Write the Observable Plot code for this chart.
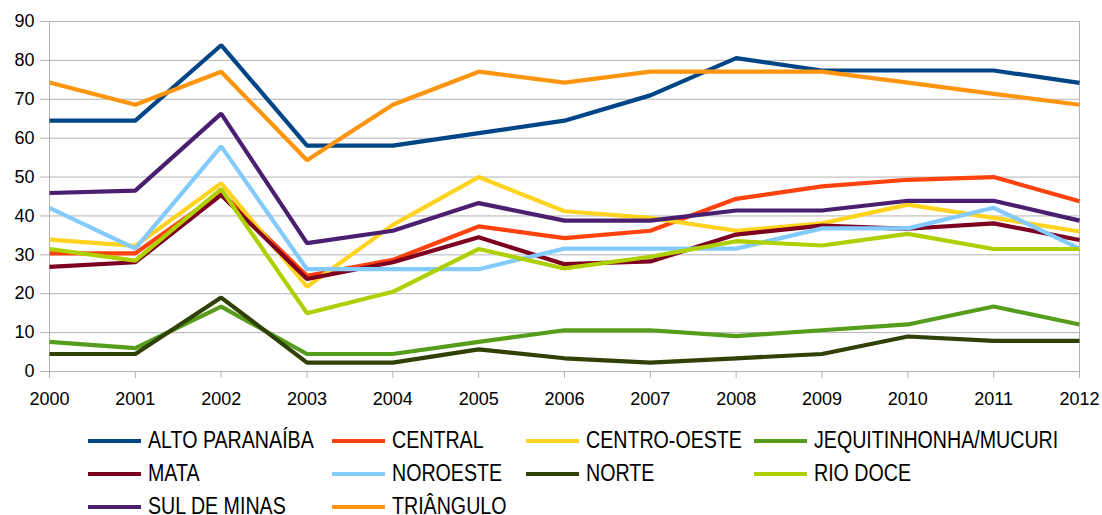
<!DOCTYPE html>
<html>
<head>
<meta charset="utf-8">
<script src="https://cdn.jsdelivr.net/npm/d3@7"></script>
<script src="https://cdn.jsdelivr.net/npm/@observablehq/plot@0.6"></script>
<style>
  html, body { margin: 0; padding: 0; background: #fff; }
  #wrap { position: relative; width: 1102px; height: 515px; overflow: hidden; }
  #legend {
    position: absolute; left: 88px; top: 424px;
    display: grid; grid-template-columns: 244px 194px 228px auto;
    grid-auto-rows: 33px;
    font-family: "Liberation Sans", Arial, sans-serif;
    font-size: 23.5px; color: #000;
  }
  .item { display: flex; align-items: center; line-height: 33px; white-space: nowrap; }
  .sw { width: 53px; height: 4px; margin-right: 7px; flex: none; }
  .lbl { display: inline-block; transform: scaleX(0.835); transform-origin: 0 50%; }
</style>
</head>
<body>
<div id="wrap">
  <div id="chart"></div>
  <div id="legend"></div>
</div>
<script>
const years = [2000, 2001, 2002, 2003, 2004, 2005, 2006, 2007, 2008, 2009, 2010, 2011, 2012];
const regions = ["ALTO PARANAÍBA", "CENTRAL", "CENTRO-OESTE", "JEQUITINHONHA/MUCURI", "MATA", "NOROESTE", "NORTE", "RIO DOCE", "SUL DE MINAS", "TRIÂNGULO"];
const colors = ["#004586", "#ff420e", "#ffd320", "#579d1c", "#7e0021", "#83caff", "#314004", "#aecf00", "#4b1f6f", "#ff950e"];

const altoParanaiba = [64.5, 64.5, 83.9, 58.1, 58.1, 61.3, 64.5, 71.0, 80.6, 77.4, 77.4, 77.4, 74.2];
const central       = [30.4, 30.4, 46.0, 24.6, 28.7, 37.3, 34.3, 36.2, 44.4, 47.6, 49.3, 50.0, 43.8];
const centroOeste   = [33.9, 32.3, 48.4, 21.8, 37.7, 50.0, 41.2, 39.5, 36.2, 38.1, 42.9, 39.5, 36.0];
const jequitinhonha = [7.6, 6.0, 16.7, 4.5, 4.5, 7.6, 10.6, 10.6, 9.1, 10.6, 12.1, 16.7, 12.1];
const mata          = [26.9, 28.1, 45.4, 23.8, 28.1, 34.5, 27.6, 28.3, 35.2, 37.5, 36.7, 38.1, 33.8];
const noroeste      = [42.1, 31.6, 57.9, 26.3, 26.3, 26.3, 31.6, 31.6, 31.6, 36.8, 36.8, 42.1, 31.6];
const norte         = [4.5, 4.5, 19.0, 2.3, 2.3, 5.7, 3.4, 2.3, 3.4, 4.5, 9.0, 7.9, 7.9];
const rioDoce       = [31.5, 28.5, 46.9, 15.0, 20.5, 31.5, 26.5, 29.5, 33.5, 32.4, 35.4, 31.5, 31.5];
const sulDeMinas    = [45.9, 46.5, 66.3, 33.0, 36.2, 43.3, 38.8, 38.8, 41.4, 41.4, 43.9, 43.9, 38.8];
const triangulo     = [74.3, 68.6, 77.1, 54.3, 68.6, 77.1, 74.3, 77.1, 77.1, 77.1, 74.3, 71.4, 68.6];
const yTicks = [0, 10, 20, 30, 40, 50, 60, 70, 80, 90];

const seriesValues = [altoParanaiba, central, centroOeste, jequitinhonha, mata, noroeste, norte, rioDoce, sulDeMinas, triangulo];
const data = regions.flatMap((r, k) => seriesValues[k].map((v, i) => ({region: r, year: years[i], value: v})));

const chart = Plot.plot({
  width: 1102,
  height: 410,
  marginLeft: 49,
  marginRight: 23,
  marginTop: 21,
  marginBottom: 39,
  style: {fontFamily: "Liberation Sans, Arial, sans-serif", fontSize: "18px", color: "#000", background: "#fff"},
  x: {type: "linear", domain: [2000, 2012], label: null},
  y: {domain: [0, 90], label: null},
  color: {domain: regions, range: colors},
  marks: [
    Plot.gridY(yTicks, {stroke: "#b3b3b3", strokeOpacity: 1, strokeWidth: 1}),
    Plot.ruleX([years[0], years[years.length - 1]], {stroke: "#b3b3b3", strokeWidth: 1}),
    Plot.axisY(yTicks, {tickSize: 9, tickPadding: 6, stroke: "#b3b3b3", fill: "#000", tickFormat: d => String(d), label: null}),
    Plot.axisX(years, {tickSize: 7, tickPadding: 14, stroke: "#b3b3b3", fill: "#000", tickFormat: d => String(d), label: null}),
    Plot.lineY(data, {x: "year", y: "value", z: "region", stroke: "region", strokeWidth: 4.2, strokeLinejoin: "miter", strokeLinecap: "butt"})
  ]
});
document.getElementById("chart").appendChild(chart);

const legend = document.getElementById("legend");
regions.forEach((r, k) => {
  const item = document.createElement("div");
  item.className = "item";
  const sw = document.createElement("span");
  sw.className = "sw";
  sw.style.background = colors[k];
  const t = document.createElement("span");
  t.className = "lbl";
  t.textContent = r;
  item.appendChild(sw);
  item.appendChild(t);
  legend.appendChild(item);
});
</script>
</body>
</html>
